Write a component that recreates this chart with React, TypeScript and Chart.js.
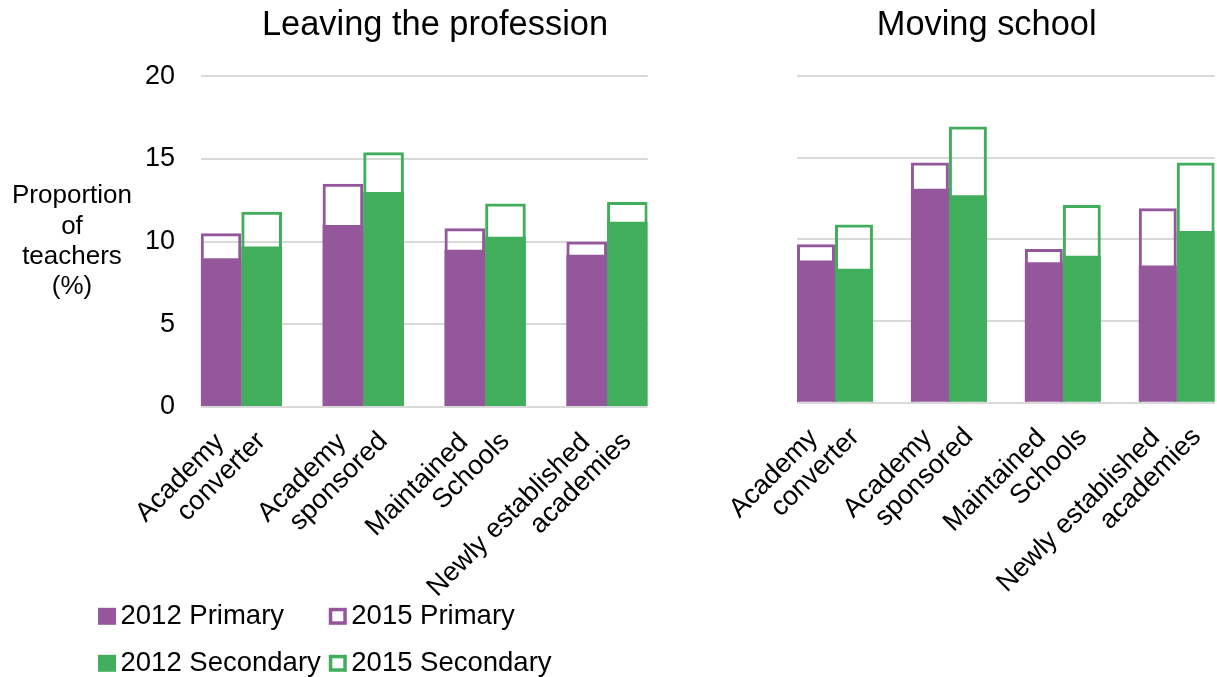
import { useEffect, useRef } from 'react';
import { Chart, registerables } from 'chart.js';

Chart.register(...registerables);

// ---- data ----
const categories: string[][] = [
  ['Academy', 'converter'],
  ['Academy', 'sponsored'],
  ['Maintained', 'Schools'],
  ['Newly established', 'academies'],
];
const yTicks = [0, 5, 10, 15, 20];
const seriesLabels = ['2012 Primary', '2015 Primary', '2012 Secondary', '2015 Secondary'];
const panelTitles = ['Leaving the profession', 'Moving school'];
const yAxisTitle = ['Proportion', 'of', 'teachers', '(%)'];

// Leaving the profession (%)
const leaving2012Primary = [9.0, 11.0, 9.5, 9.2];
const leaving2015Primary = [10.5, 13.5, 10.8, 10.0];
const leaving2012Secondary = [9.7, 13.0, 10.3, 11.2];
const leaving2015Secondary = [11.8, 15.4, 12.3, 12.4];

// Moving school (%)
const moving2012Primary = [8.7, 13.1, 8.6, 8.4];
const moving2015Primary = [9.7, 14.7, 9.4, 11.9];
const moving2012Secondary = [8.2, 12.7, 9.0, 10.5];
const moving2015Secondary = [10.9, 16.9, 12.1, 14.7];

// ---- styling ----
const FONT = '"Liberation Sans", Arial, sans-serif';
const PURPLE = '#95579B';
const GREEN = '#40AE5B';
const GRID = '#D9D9D9';

Chart.defaults.font.family = FONT;
Chart.defaults.color = '#000';

const points = (vals: number[]) => vals.map((y, x) => ({ x, y }));

function makeDatasets(p12: number[], p15: number[], s12: number[], s15: number[]) {
  return [
    { label: seriesLabels[0], data: points(p12), stack: 'primary', backgroundColor: PURPLE, borderWidth: 0 },
    { label: seriesLabels[1], data: points(p15), stack: 'primary', backgroundColor: 'rgba(0,0,0,0)', borderColor: PURPLE, borderWidth: 3, borderSkipped: 'start' },
    { label: seriesLabels[2], data: points(s12), stack: 'secondary', backgroundColor: GREEN, borderWidth: 0 },
    { label: seriesLabels[3], data: points(s15), stack: 'secondary', backgroundColor: 'rgba(0,0,0,0)', borderColor: GREEN, borderWidth: 3, borderSkipped: 'start' },
  ];
}

// Category labels are stepped like spreadsheet rotated labels: earlier lines get a
// trailing gap so every line ends at the same height.
const stepped = (lines: string[]) => lines.map((l, i) => (i < lines.length - 1 ? l + '    ' : l));

interface PanelCfg {
  title: string;
  padding: { left: number; right: number; top: number; bottom: number };
  yWidth: number;
  xHeight: number;
  showYTicks: boolean;
  titleBottom: number;
  rightSpace: number;
}

function makeOptions(cfg: PanelCfg): any {
  const scales: any = {
    x: {
      type: 'linear',
      offset: false,
      min: -1 / 3,
      max: categories.length - 1 + 1 / 3,
      stacked: true,
      grid: { display: false, drawTicks: false, offset: false },
      border: { display: false },
      afterBuildTicks: (s: any) => {
        s.ticks = categories.map((_, i) => ({ value: i }));
      },
      afterFit: (s: any) => {
        s.height = cfg.xHeight;
      },
      ticks: {
        autoSkip: false,
        minRotation: 45,
        maxRotation: 45,
        padding: 0,
        color: '#000',
        font: { size: 27, lineHeight: 1.05, family: FONT },
        callback: (v: number) => {
          const c = categories[Math.round(v)];
          return c ? stepped(c) : '';
        },
      },
    },
    y: {
      type: 'linear',
      min: yTicks[0],
      max: yTicks[yTicks.length - 1],
      stacked: false,
      afterBuildTicks: (s: any) => {
        s.ticks = yTicks.map((v) => ({ value: v }));
      },
      afterFit: (s: any) => {
        s.width = cfg.yWidth;
      },
      grid: { color: GRID, lineWidth: 2, drawTicks: false },
      border: { display: false },
      ticks: {
        display: cfg.showYTicks,
        padding: 25.7,
        color: '#000',
        font: { size: 27, family: FONT },
      },
    },
  };
  if (cfg.rightSpace > 0) {
    // empty right-hand band so the full-width title sits where the panel heading belongs
    scales.titleBand = {
      type: 'linear',
      position: 'right',
      display: true,
      grid: { display: false, drawTicks: false },
      border: { display: false },
      ticks: { display: false },
      afterFit: (s: any) => {
        s.width = cfg.rightSpace;
      },
    };
  }
  return {
    responsive: false,
    animation: false,
    devicePixelRatio: 1,
    layout: { padding: cfg.padding },
    datasets: { bar: { categoryPercentage: 2 / 3, barPercentage: 1 } },
    plugins: {
      legend: { display: false },
      tooltip: { enabled: false },
      title: {
        display: true,
        text: cfg.title,
        fullSize: true,
        color: '#000',
        font: { size: 34.4, weight: 'normal', family: FONT },
        padding: { top: 4.5, bottom: cfg.titleBottom },
      },
    },
    scales,
  };
}

// Horizontal, multi-line value-axis caption left of the tick labels.
const yTitlePlugin = {
  id: 'yTitleLines',
  afterDraw(chart: any) {
    const { ctx, chartArea } = chart;
    ctx.save();
    ctx.font = `26px ${FONT}`;
    ctx.fillStyle = '#000';
    ctx.textAlign = 'center';
    ctx.textBaseline = 'middle';
    const lh = 30.3;
    const cy = (chartArea.top + chartArea.bottom) / 2;
    const n = yAxisTitle.length;
    yAxisTitle.forEach((t, i) => ctx.fillText(t, 72, cy + (i - (n - 1) / 2) * lh));
    ctx.restore();
  },
};

// Two-column legend (2012 | 2015) under the left panel.
const legendGridPlugin = {
  id: 'legendGrid',
  afterDraw(chart: any) {
    const { ctx } = chart;
    const items = chart.data.datasets;
    const fontSize = 27.5;
    const box = 18;
    const boxH = 17;
    const gap = 4.5;
    const colGap = 8;
    const left = 98;
    const rowY = [616.3, 663.3];
    ctx.save();
    ctx.font = `${fontSize}px ${FONT}`;
    const firstCol = items.filter((_: any, i: number) => i % 2 === 0);
    const col1W = Math.max(...firstCol.map((d: any) => ctx.measureText(d.label).width));
    const colX = [left, left + box + gap + col1W + colGap];
    items.forEach((d: any, i: number) => {
      const x = colX[i % 2];
      const y = rowY[Math.floor(i / 2)];
      const outline = (d.borderWidth || 0) > 0;
      if (outline) {
        const bw = 3.5;
        ctx.fillStyle = '#fff';
        ctx.fillRect(x, y - boxH / 2, box, boxH);
        ctx.strokeStyle = d.borderColor;
        ctx.lineWidth = bw;
        ctx.strokeRect(x + bw / 2, y - boxH / 2 + bw / 2, box - bw, boxH - bw);
      } else {
        ctx.fillStyle = d.backgroundColor;
        ctx.fillRect(x, y - boxH / 2, box, boxH);
      }
      ctx.fillStyle = '#000';
      ctx.textAlign = 'left';
      ctx.textBaseline = 'middle';
      ctx.fillText(d.label, x + box + gap, y);
    });
    ctx.restore();
  },
};

const LEFT_W = 870;
const RIGHT_X = 680;
const RIGHT_W = 537;
const H = 677;

export default function App() {
  const leftRef = useRef<HTMLCanvasElement>(null);
  const rightRef = useRef<HTMLCanvasElement>(null);

  useEffect(() => {
    if (!leftRef.current || !rightRef.current) return;
    const left = new Chart(leftRef.current, {
      type: 'bar',
      data: {
        datasets: makeDatasets(leaving2012Primary, leaving2015Primary, leaving2012Secondary, leaving2015Secondary) as any,
      },
      options: makeOptions({
        title: panelTitles[0],
        padding: { left: 0, right: 0, top: 0, bottom: 0 },
        yWidth: 200.7,
        xHeight: H - 407,
        showYTicks: true,
        titleBottom: 30.4,
        rightSpace: LEFT_W - 647.7,
      }),
      plugins: [yTitlePlugin, legendGridPlugin],
    });
    const right = new Chart(rightRef.current, {
      type: 'bar',
      data: {
        datasets: makeDatasets(moving2012Primary, moving2015Primary, moving2012Secondary, moving2015Secondary) as any,
      },
      options: makeOptions({
        title: panelTitles[1],
        padding: { left: 78, right: 1.7, top: 0, bottom: 0 },
        yWidth: 39,
        xHeight: H - 402.7,
        showYTicks: false,
        titleBottom: 30.1,
        rightSpace: 0,
      }),
    });
    return () => {
      left.destroy();
      right.destroy();
    };
  }, []);

  return (
    <div style={{ position: 'fixed', left: 0, top: 0, width: 1217, height: H, background: '#fff', overflow: 'hidden' }}>
      <canvas
        ref={leftRef}
        width={LEFT_W}
        height={H}
        style={{ position: 'absolute', left: 0, top: 0, width: LEFT_W, height: H }}
      />
      <canvas
        ref={rightRef}
        width={RIGHT_W}
        height={H}
        style={{ position: 'absolute', left: RIGHT_X, top: 0, width: RIGHT_W, height: H }}
      />
    </div>
  );
}
